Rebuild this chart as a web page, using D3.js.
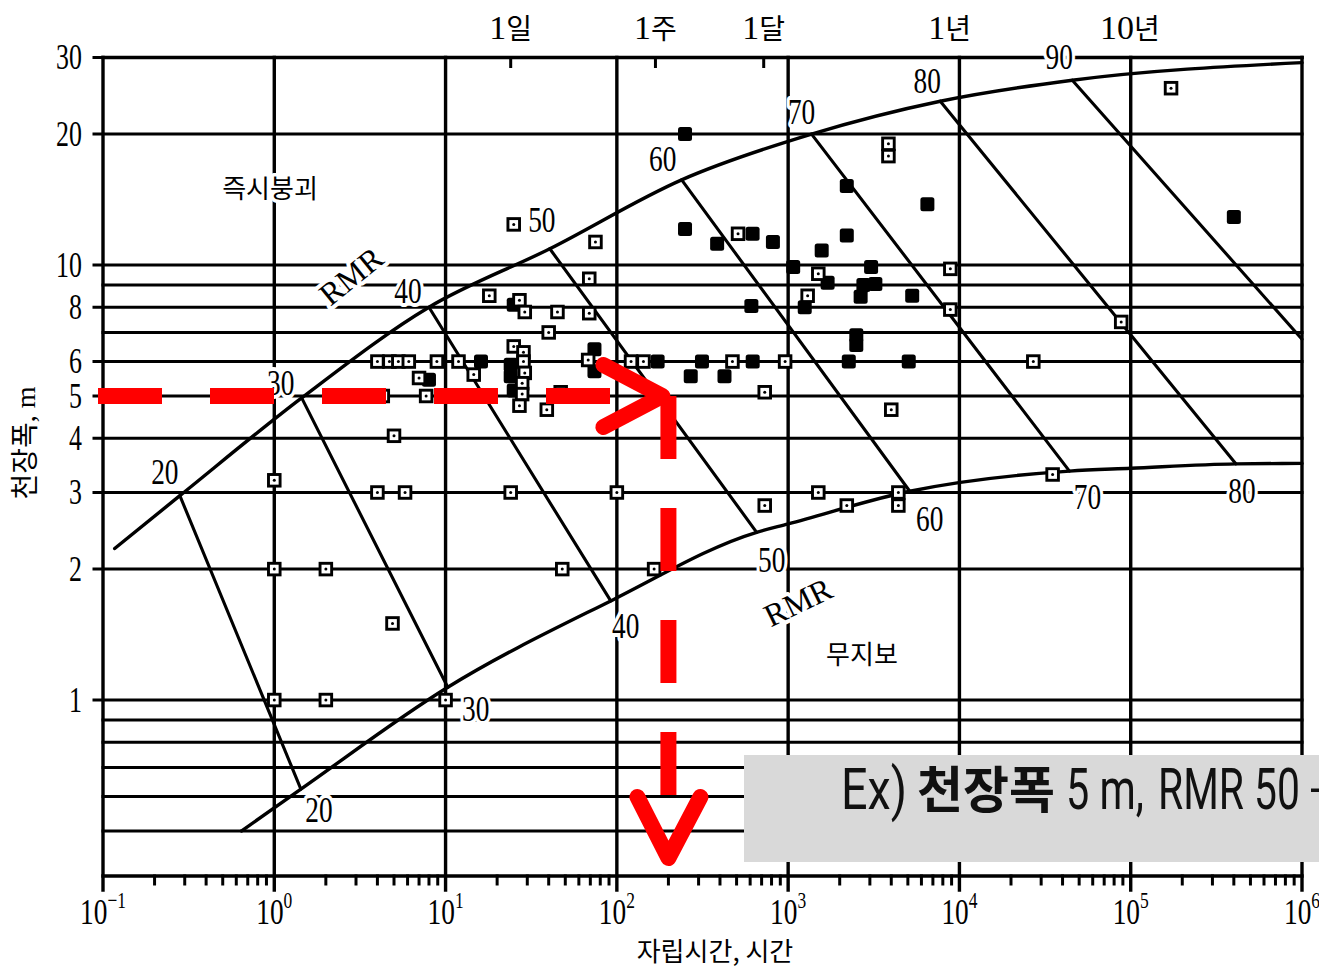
<!DOCTYPE html>
<html>
<head>
<meta charset="utf-8">
<script src="https://cdn.jsdelivr.net/npm/d3@7"></script>
<style>
  body { margin: 0; background: #fff; }
  svg { display: block; }
</style>
</head>
<body>
<svg id="chart" width="1319" height="967"></svg>
<script>
// ---- Axis values -------------------------------------------------------
const yTickValues = [30, 20, 10, 8, 6, 5, 4, 3, 2, 1];
const yGridValues = [30, 20, 10, 9, 8, 7, 6, 5, 4, 3, 2, 1, 0.9, 0.8, 0.7, 0.6, 0.5];
const xDecades = [-1, 0, 1, 2, 3, 4, 5, 6];
const topLabels = ["1일", "1주", "1달", "1년", "10년"];
const topHours = [24, 168, 720, 8760, 87600];

// ---- RMR envelopes (hours, span m) -------------------------------------
const rmrValues = [20, 30, 40, 50, 60, 70, 80, 90];
// upper envelope (immediate collapse) nodes for each RMR class
const upperHours = [0.281, 1.445, 8.0, 40.6, 239, 1370, 7730, 45600];
const upperSpan  = [2.95, 4.95, 8.0, 10.9, 15.7, 20.0, 23.8, 26.6];
const upperStart = [0.117, 2.23];
const upperEnd   = [1e6, 29.2];
// lower envelope (no support required) nodes for RMR 20..80
const lowerHours = [1.43, 10.3, 92.1, 655, 5130, 43900, 412000];
const lowerSpan  = [0.624, 1.07, 1.69, 2.43, 3.02, 3.36, 3.49];
const lowerExtra = [[0.643, 0.5], [1000, 2.54], [1e5, 3.41], [1e6, 3.5]];
// RMR 90 line leaves the frame at the right edge
const rmr90End = [1e6, 6.75];

// ---- Case histories (hours, span m) ------------------------------------
const openCases = [
  [1.0, 3.2], [1.0, 2.0], [2.0, 2.0], [1.0, 1.0], [2.0, 1.0], [4.9, 1.5],
  [4.0, 3.0], [5.8, 3.0], [5.0, 4.05], [7.7, 5.0], [7.0, 5.5], [4.3, 5.0],
  [4.0, 6.0], [4.7, 6.0], [5.3, 6.0], [6.1, 6.0], [8.9, 6.0], [11.9, 6.0],
  [14.6, 5.6], [18, 8.5], [27, 8.3], [29, 7.8], [45, 7.8], [69, 7.75],
  [40, 7.0], [25, 6.5], [28.5, 6.3], [28.5, 6.0], [29, 5.65], [28, 5.35],
  [28, 5.05], [27, 4.75], [39, 4.65], [47, 5.1], [68, 6.05], [25, 12.4],
  [75, 11.3], [69, 9.3], [510, 11.8], [1500, 9.55], [1300, 8.5], [121, 6.0],
  [143, 6.0], [473, 6.0], [960, 6.0], [27000, 6.0], [730, 5.1], [3850, 19],
  [3850, 17.8], [8850, 9.8], [8850, 7.9], [172000, 25.5], [88000, 7.4],
  [4000, 4.65], [35000, 3.3], [2200, 2.8], [4400, 3.0], [4400, 2.8],
  [730, 2.8], [1500, 3.0], [24, 3.0], [100, 3.0], [48, 2.0], [165, 2.0],
  [10, 1.0]
];
const filledCases = [
  [8.0, 5.45], [16.1, 6.0], [25, 8.1], [24, 5.9], [24, 5.55], [25, 5.15],
  [74, 6.4], [74, 5.7], [250, 20], [250, 12.1], [385, 11.2], [620, 11.8],
  [815, 11.3], [1570, 10.8], [1070, 9.9], [1700, 9.1], [1250, 8.0],
  [610, 8.05], [3050, 9.9], [2750, 9.0], [2650, 8.45], [3230, 9.05],
  [5300, 8.5], [2500, 6.9], [2500, 6.55], [173, 6.0], [314, 6.0], [621, 6.0],
  [2260, 6.0], [5060, 6.0], [270, 5.55], [425, 5.55], [2200, 15.2],
  [6500, 13.8], [2200, 11.7], [400000, 12.9]
];

// ---- Worked example ----------------------------------------------------
const exampleSpan = 5;      // m
const exampleHours = 200;   // stand-up time read for RMR 50

// ---- Scales ------------------------------------------------------------
const svg = d3.select("#chart");
const x = d3.scaleLog().domain([0.1, 1e6]).range([103, 1302]);
const y = d3.scaleLog().domain([0.394, 30]).range([876, 57.5]);
const [X0, X1] = x.range();
const [Y0, Y1] = y.range();

const SERIF = "'Liberation Serif', 'Times New Roman', serif";
const KR = "'Liberation Serif', 'Noto Sans CJK KR', sans-serif";

function numText(g, px, py, str, size, anchor, sx, halo) {
  const t = g.append("text")
    .attr("transform", `translate(${px},${py}) scale(${sx},1)`)
    .attr("y", size * 0.33)
    .attr("text-anchor", anchor)
    .attr("font-family", SERIF)
    .attr("font-size", size)
    .attr("fill", "#000")
    .text(str);
  if (halo) {
    t.attr("stroke", "#fff").attr("stroke-width", halo)
     .attr("stroke-linejoin", "round").attr("paint-order", "stroke");
  }
  return t;
}

// ---- Grid --------------------------------------------------------------
const grid = svg.append("g").attr("stroke", "#000").attr("stroke-linecap", "square");

grid.selectAll("line.h").data(yGridValues).join("line")
  .attr("x1", d => yTickValues.includes(d) ? X0 - 9 : X0)
  .attr("x2", X1)
  .attr("y1", d => y(d)).attr("y2", d => y(d))
  .attr("stroke-width", 3);

grid.selectAll("line.v").data(xDecades).join("line")
  .attr("x1", d => x(Math.pow(10, d))).attr("x2", d => x(Math.pow(10, d)))
  .attr("y1", Y1).attr("y2", Y0 + 14)
  .attr("stroke-width", 3.4);

grid.append("line").attr("x1", X0).attr("x2", X1).attr("y1", Y0).attr("y2", Y0).attr("stroke-width", 3.4);
grid.append("line").attr("x1", X0).attr("x2", X1).attr("y1", Y1).attr("y2", Y1).attr("stroke-width", 3.4);

// minor ticks on the time axis
const minor = [];
for (let d = -1; d < 6; d++) for (let n = 2; n <= 9; n++) minor.push(n * Math.pow(10, d));
grid.selectAll("line.m").data(minor).join("line")
  .attr("x1", d => x(d)).attr("x2", d => x(d))
  .attr("y1", Y0).attr("y2", Y0 + 8)
  .attr("stroke-width", 3);

// calendar ticks along the top
const decadePx = xDecades.map(d => x(Math.pow(10, d)));
grid.selectAll("line.t").data(topHours.filter(h => decadePx.every(p => Math.abs(p - x(h)) > 15))).join("line")
  .attr("x1", d => x(d)).attr("x2", d => x(d))
  .attr("y1", Y1).attr("y2", Y1 + 9)
  .attr("stroke-width", 3);

// ---- Axis labels -------------------------------------------------------
const labels = svg.append("g");

xDecades.forEach(d => {
  const t = labels.append("text")
    .attr("transform", `translate(${x(Math.pow(10, d))},924) scale(0.76,1)`)
    .attr("text-anchor", "middle")
    .attr("font-family", SERIF)
    .attr("font-size", 36);
  t.append("tspan").text("10");
  t.append("tspan").attr("font-size", 23).attr("dy", -16).text(d < 0 ? "\u2212" + (-d) : d);
});

yTickValues.forEach(v => numText(labels, 82, y(v), String(v), 35, "end", 0.74));

topLabels.forEach((s, i) => {
  const t = labels.append("text")
    .attr("x", x(topHours[i]) + (i === 4 ? 9 : 0))
    .attr("y", 39)
    .attr("text-anchor", "middle")
    .attr("font-family", KR);
  const m = s.match(/^(\d+)(.*)$/);
  t.append("tspan").attr("font-size", 34).text(m[1]);
  t.append("tspan").attr("font-size", 28).attr("font-family", "'Noto Sans CJK KR', sans-serif").text(m[2]);
});

labels.append("text")
  .attr("transform", "translate(35,443) rotate(-90)")
  .attr("text-anchor", "middle")
  .attr("font-family", KR)
  .attr("font-size", 28)
  .text("천장폭, m");

labels.append("text")
  .attr("x", 715).attr("y", 961)
  .attr("text-anchor", "middle")
  .attr("font-family", "'Noto Sans CJK KR', sans-serif")
  .attr("font-size", 26)
  .text("자립시간, 시간");

// ---- RMR envelopes and class lines -------------------------------------
const curves = svg.append("g").attr("fill", "none").attr("stroke", "#000")
  .attr("stroke-width", 3.4).attr("stroke-linecap", "round");
const line = d3.line().x(d => x(d[0])).y(d => y(d[1])).curve(d3.curveMonotoneX);

const upperPts = [upperStart, ...upperHours.map((h, i) => [h, upperSpan[i]]), upperEnd];
const lowerPts = [...lowerHours.map((h, i) => [h, lowerSpan[i]]), ...lowerExtra]
  .sort((a, b) => a[0] - b[0]);

curves.append("path").attr("d", line(upperPts));
curves.append("path").attr("d", line(lowerPts));

rmrValues.forEach((r, i) => {
  const end = i < lowerHours.length ? [lowerHours[i], lowerSpan[i]] : rmr90End;
  curves.append("line")
    .attr("stroke-width", 3.1)
    .attr("x1", x(upperHours[i])).attr("y1", y(upperSpan[i]))
    .attr("x2", x(end[0])).attr("y2", y(end[1]));
});

// ---- Case markers ------------------------------------------------------
const marks = svg.append("g");
marks.selectAll("rect.f").data(filledCases).join("rect")
  .attr("x", d => x(d[0]) - 7).attr("y", d => y(d[1]) - 7)
  .attr("width", 14).attr("height", 14).attr("rx", 2.5)
  .attr("fill", "#000");

const openG = marks.selectAll("g.o").data(openCases).join("g")
  .attr("transform", d => `translate(${x(d[0])},${y(d[1])})`);
openG.append("rect")
  .attr("x", -5.8).attr("y", -5.8).attr("width", 11.6).attr("height", 11.6)
  .attr("fill", "#fff").attr("stroke", "#000").attr("stroke-width", 2.9);
openG.append("circle").attr("r", 1.5).attr("fill", "#000");

// ---- RMR class labels --------------------------------------------------
const upperOffsets = [[-15, -24], [-21, -15], [-21, -16], [-8, -29], [-19, -21], [-10, -22], [-13, -20], [-13, -23]];
const lowerOffsets = [[18, 21], [28, 22], [15, 25], [15, 28], [20, 28], [18, 26], [6, 27]];

rmrValues.forEach((r, i) => {
  numText(labels, x(upperHours[i]) + upperOffsets[i][0], y(upperSpan[i]) + upperOffsets[i][1],
    String(r), 36, "middle", 0.76, 8);
  if (i < lowerHours.length) {
    numText(labels, x(lowerHours[i]) + lowerOffsets[i][0], y(lowerSpan[i]) + lowerOffsets[i][1],
      String(r), 36, "middle", 0.76, 8);
  }
});

function rmrTag(cx, cy, angle) {
  labels.append("text")
    .attr("transform", `translate(${cx},${cy}) rotate(${angle})`)
    .attr("y", 11)
    .attr("text-anchor", "middle")
    .attr("font-family", SERIF)
    .attr("font-size", 32)
    .attr("stroke", "#fff").attr("stroke-width", 8)
    .attr("stroke-linejoin", "round").attr("paint-order", "stroke")
    .text("RMR");
}
rmrTag(351, 276, -39);
rmrTag(798, 602, -26);

function zoneTag(cx, cy, str) {
  labels.append("text")
    .attr("x", cx).attr("y", cy + 9)
    .attr("text-anchor", "middle")
    .attr("font-family", "'Noto Sans CJK KR', sans-serif")
    .attr("font-size", 26)
    .attr("stroke", "#fff").attr("stroke-width", 7)
    .attr("stroke-linejoin", "round").attr("paint-order", "stroke")
    .text(str);
}
zoneTag(270, 189, "즉시붕괴");
zoneTag(862, 655, "무지보");

// ---- Worked example arrows --------------------------------------------
const red = svg.append("g").attr("stroke", "#ff0000").attr("fill", "none").attr("stroke-width", 16);
const ey = y(exampleSpan), ex = x(exampleHours);

red.append("line")
  .attr("x1", 98).attr("x2", 610).attr("y1", ey).attr("y2", ey)
  .attr("stroke-dasharray", "64 48");
red.append("polyline")
  .attr("points", `${ex - 65},${ey - 31} ${ex - 6},${ey} ${ex - 65},${ey + 31}`)
  .attr("stroke-linecap", "round").attr("stroke-linejoin", "round");

red.append("line")
  .attr("x1", ex).attr("x2", ex).attr("y1", ey).attr("y2", 797)
  .attr("stroke-dasharray", "63 49");
red.append("polyline")
  .attr("points", `${ex - 31},797 ${ex},858 ${ex + 32},797`)
  .attr("stroke-linecap", "round").attr("stroke-linejoin", "round");

// ---- Example note (runs past the right edge of the page) ---------------
const note = svg.append("g");
note.append("rect").attr("x", 744).attr("y", 755).attr("width", 600).attr("height", 107).attr("fill", "#d9d9d9");

// Latin runs are set in a narrow cut: measured, then squeezed to width
function noteLatin(px, str, width) {
  const t = note.append("text")
    .attr("font-family", "Roboto, 'Noto Sans', sans-serif")
    .attr("font-size", 57)
    .attr("fill", "#111")
    .text(str);
  const natural = t.node().getComputedTextLength();
  const sx = width ? width / natural : 0.78;
  t.attr("transform", `translate(${px},809) scale(${sx},1)`);
}
noteLatin(841, "Ex)", 66);
note.append("text")
  .attr("x", 917).attr("y", 808)
  .attr("font-family", "'Noto Sans CJK KR', sans-serif")
  .attr("font-size", 50).attr("font-weight", 700)
  .attr("fill", "#111")
  .text("천장폭");
noteLatin(1066, "5 m,", 78);
noteLatin(1158, "RMR 50", 142);
note.append("text")
  .attr("x", 1309).attr("y", 809)
  .attr("font-family", "'Noto Sans CJK KR', sans-serif")
  .attr("font-size", 50)
  .attr("fill", "#111")
  .text("→ 자립시간 약 200시간");
</script>
</body>
</html>
